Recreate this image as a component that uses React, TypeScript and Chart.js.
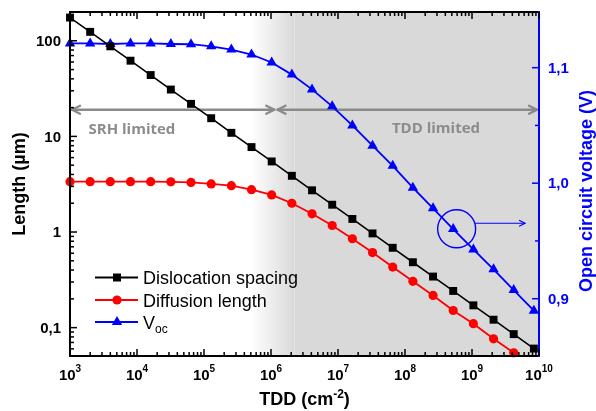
import React, { useEffect, useRef } from "react";
import { Chart, registerables } from "chart.js";

Chart.register(...registerables);

// ---- data ----
const tdd = [
  1000, 2000, 4000, 8000, 16000, 32000, 64000, 128000, 256000, 512000,
  1024000, 2048000, 4096000, 8192000, 16384000, 32768000, 65536000,
  131072000, 262144000, 524288000, 1048576000, 2097152000, 4194304000,
  8388608000,
];
const dislocationSpacing = [
  175, 124, 87.5, 61.9, 43.8, 30.9, 21.9, 15.5, 10.9, 7.73, 5.47, 3.87,
  2.73, 1.93, 1.37, 0.967, 0.684, 0.483, 0.342, 0.242, 0.171, 0.121, 0.0855,
  0.0604,
];
const diffusionLength = [
  3.36, 3.36, 3.36, 3.36, 3.36, 3.35, 3.3, 3.18, 3.05, 2.77, 2.44, 2.0, 1.55,
  1.17, 0.85, 0.61, 0.43, 0.305, 0.217, 0.151, 0.11, 0.0764, 0.0545,
];
const voc = [
  1.121, 1.121, 1.1205, 1.121, 1.121, 1.1205, 1.1203, 1.1185, 1.1157, 1.1114,
  1.1045, 1.094, 1.0812, 1.0665, 1.05, 1.0325, 1.015, 0.9961, 0.9783, 0.9603,
  0.9427, 0.9254, 0.9075, 0.8896,
];

const seriesLabels = ["Dislocation spacing", "Diffusion length", "V"];
const vocSubscript = "oc";

// ---- tick labels ----
const xMajorTicks = [1e3, 1e4, 1e5, 1e6, 1e7, 1e8, 1e9, 1e10];
const xTickBase = "10";
const xTickExponents = ["3", "4", "5", "6", "7", "8", "9", "10"];
const yLeftMajorTicks = [0.1, 1, 10, 100];
const yLeftTickLabels = ["0,1", "1", "10", "100"];
const yRightMajorTicks = [0.9, 1.0, 1.1];
const yRightTickLabels = ["0,9", "1,0", "1,1"];
const yRightMinorTicks = [0.95, 1.05];

const xTitle = "TDD (cm";
const xTitleSup = "-2";
const yTitle = "Length (µm)";
const y1Title = "Open circuit voltage (V)";
const srhText = "SRH limited";
const tddText = "TDD limited";

// ---- annotation anchors (data space) ----
const X_MIN = 1e3, X_MAX = 1e10;
const Y_MIN = 0.0505, Y_MAX = 200;
const Y1_MIN = 0.8504, Y1_MAX = 1.1482;
const shadeStart = Math.pow(10, 5.7);
const shadeEnd = Math.pow(10, 6.35);
const arrowY = 19;
const srhArrow = [1e3, 1.12e6];
const tddArrow = [1.25e6, 1e10];
const srhLabelPos = [8.4e3, 11.8];
const tddLabelPos = [2.9e8, 11.9];
const circlePos = [5.9e8, 0.9605];
const circleArrow = [0.9653, 6.2e9];

const BLUE = "#0000ff";
const RED = "#ff0000";
const GRAY_TXT = "#8c8c8c";
const SANS = '"Liberation Sans", Arial, sans-serif';

function minorLogTicks(min: number, max: number) {
  const out: number[] = [];
  for (let e = Math.floor(Math.log10(min)); e <= Math.ceil(Math.log10(max)); e++) {
    for (let n = 2; n <= 9; n++) {
      const v = n * Math.pow(10, e);
      if (v >= min && v <= max) out.push(v);
    }
  }
  return out;
}

function seg(ctx: CanvasRenderingContext2D, x1: number, y1: number, x2: number, y2: number) {
  ctx.beginPath();
  ctx.moveTo(x1, y1);
  ctx.lineTo(x2, y2);
  ctx.stroke();
}

function chevron(ctx: CanvasRenderingContext2D, x: number, y: number, dir: number, len: number, spread: number) {
  ctx.beginPath();
  ctx.moveTo(x - dir * len, y - spread);
  ctx.lineTo(x, y);
  ctx.lineTo(x - dir * len, y + spread);
  ctx.stroke();
}

const decorPlugin = {
  id: "decor",
  beforeDatasetsDraw(chart: any) {
    const { ctx, chartArea: a, scales } = chart;
    const xs = scales.x, ys = scales.y;
    ctx.save();
    ctx.fillStyle = "#ffffff";
    ctx.fillRect(a.left, a.top, a.right - a.left, a.bottom - a.top);
    const g0 = xs.getPixelForValue(shadeStart);
    const g1 = xs.getPixelForValue(shadeEnd);
    const grad = ctx.createLinearGradient(g0, 0, g1, 0);
    grad.addColorStop(0, "rgba(217,217,217,0)");
    grad.addColorStop(1, "rgba(217,217,217,1)");
    ctx.fillStyle = grad;
    ctx.fillRect(g0, a.top, g1 - g0, a.bottom - a.top);
    ctx.fillStyle = "rgb(217,217,217)";
    ctx.fillRect(g1, a.top, a.right - g1, a.bottom - a.top);

    // gray double arrows
    const ay = ys.getPixelForValue(arrowY);
    ctx.strokeStyle = "#8a8a8a";
    ctx.lineWidth = 2.4;
    ctx.lineCap = "round";
    ctx.lineJoin = "round";
    const s0 = xs.getPixelForValue(srhArrow[0]) + 2, s1 = xs.getPixelForValue(srhArrow[1]);
    seg(ctx, s0, ay, s1, ay);
    chevron(ctx, s0, ay, -1, 8, 4);
    chevron(ctx, s1, ay, 1, 8, 4);
    const t0 = xs.getPixelForValue(tddArrow[0]), t1 = xs.getPixelForValue(tddArrow[1]) - 2;
    seg(ctx, t0, ay, t1, ay);
    chevron(ctx, t0, ay, -1, 8, 4);
    chevron(ctx, t1, ay, 1, 8, 4);

    ctx.fillStyle = GRAY_TXT;
    ctx.font = 'bold 15px "Open Sans", ' + SANS;
    ctx.textAlign = "center";
    ctx.textBaseline = "middle";
    ctx.fillText(srhText, xs.getPixelForValue(srhLabelPos[0]), ys.getPixelForValue(srhLabelPos[1]));
    ctx.fillText(tddText, xs.getPixelForValue(tddLabelPos[0]), ys.getPixelForValue(tddLabelPos[1]));
    ctx.restore();
  },
  afterDatasetsDraw(chart: any) {
    const { ctx, chartArea: a, scales } = chart;
    const xs = scales.x, ys = scales.y, y1 = scales.y1;
    const L = a.left, R = a.right, T = a.top, B = a.bottom;
    ctx.save();

    // circle annotation
    const cx = xs.getPixelForValue(circlePos[0]);
    const cy = y1.getPixelForValue(circlePos[1]);
    const r = 19;
    ctx.strokeStyle = BLUE;
    ctx.lineWidth = 1.4;
    ctx.beginPath();
    ctx.arc(cx, cy, r, 0, Math.PI * 2);
    ctx.stroke();
    const aY = y1.getPixelForValue(circleArrow[0]);
    const dy = aY - cy;
    const ax0 = cx + Math.sqrt(Math.max(0, r * r - dy * dy));
    const ax1 = xs.getPixelForValue(circleArrow[1]);
    ctx.lineWidth = 1.2;
    seg(ctx, ax0, aY, ax1, aY);
    chevron(ctx, ax1, aY, 1, 6, 3);

    // axes
    ctx.lineCap = "butt";
    ctx.lineWidth = 2;
    ctx.strokeStyle = "#000";
    seg(ctx, L - 1, T, R, T);
    seg(ctx, L - 1, B, R, B);
    seg(ctx, L, T - 1, L, B + 1);
    ctx.strokeStyle = BLUE;
    seg(ctx, R, T - 1, R, B + 1);

    // ticks
    ctx.lineWidth = 1.5;
    ctx.strokeStyle = "#000";
    for (const v of xMajorTicks) {
      const px = xs.getPixelForValue(v);
      seg(ctx, px, B, px, B - 7);
      seg(ctx, px, T, px, T + 7);
    }
    for (const v of minorLogTicks(X_MIN, X_MAX)) {
      const px = xs.getPixelForValue(v);
      seg(ctx, px, B, px, B - 4);
      seg(ctx, px, T, px, T + 4);
    }
    for (const v of yLeftMajorTicks) {
      const py = ys.getPixelForValue(v);
      seg(ctx, L, py, L + 7, py);
    }
    for (const v of minorLogTicks(Y_MIN, Y_MAX)) {
      const py = ys.getPixelForValue(v);
      seg(ctx, L, py, L + 4, py);
    }
    ctx.strokeStyle = BLUE;
    for (const v of yRightMajorTicks) {
      const py = y1.getPixelForValue(v);
      seg(ctx, R, py, R - 7, py);
    }
    for (const v of yRightMinorTicks) {
      const py = y1.getPixelForValue(v);
      seg(ctx, R, py, R - 4, py);
    }

    // tick labels
    ctx.fillStyle = "#000";
    ctx.textBaseline = "alphabetic";
    ctx.textAlign = "left";
    xMajorTicks.forEach((v, i) => {
      const px = xs.getPixelForValue(v);
      ctx.font = "bold 15px " + SANS;
      const wb = ctx.measureText(xTickBase).width;
      ctx.font = "bold 10px " + SANS;
      const we = ctx.measureText(xTickExponents[i]).width;
      const start = px - (wb + we) / 2;
      ctx.font = "bold 15px " + SANS;
      ctx.fillText(xTickBase, start, B + 24);
      ctx.font = "bold 10px " + SANS;
      ctx.fillText(xTickExponents[i], start + wb, B + 16);
    });
    ctx.font = "bold 15px " + SANS;
    ctx.textAlign = "right";
    ctx.textBaseline = "middle";
    yLeftMajorTicks.forEach((v, i) => {
      ctx.fillText(yLeftTickLabels[i], L - 9, ys.getPixelForValue(v) + 1);
    });
    ctx.fillStyle = BLUE;
    ctx.textAlign = "left";
    yRightMajorTicks.forEach((v, i) => {
      ctx.fillText(yRightTickLabels[i], R + 9, y1.getPixelForValue(v) + 1);
    });

    // titles
    const midY = (T + B) / 2;
    ctx.font = "bold 18px " + SANS;
    ctx.textBaseline = "alphabetic";
    ctx.textAlign = "left";
    ctx.fillStyle = "#000";
    const w1 = ctx.measureText(xTitle).width;
    const w3 = ctx.measureText(")").width;
    ctx.font = "bold 12px " + SANS;
    const w2 = ctx.measureText(xTitleSup).width;
    const tx = (L + R) / 2 - (w1 + w2 + w3) / 2;
    const tb = B + 49;
    ctx.font = "bold 18px " + SANS;
    ctx.fillText(xTitle, tx, tb);
    ctx.fillText(")", tx + w1 + w2, tb);
    ctx.font = "bold 12px " + SANS;
    ctx.fillText(xTitleSup, tx + w1, tb - 7);

    ctx.font = "bold 18px " + SANS;
    ctx.textAlign = "center";
    ctx.textBaseline = "middle";
    ctx.save();
    ctx.translate(20, midY);
    ctx.rotate(-Math.PI / 2);
    ctx.fillText(yTitle, 0, 0);
    ctx.restore();
    ctx.save();
    ctx.fillStyle = BLUE;
    ctx.translate(587, midY + 7);
    ctx.rotate(-Math.PI / 2);
    ctx.fillText(y1Title, 0, 0);
    ctx.restore();

    // legend
    const rows = [277.5, 300, 322];
    const colors = ["#000", RED, BLUE];
    const lx0 = 95, lx1 = 138, mx = 117, textX = 143;
    rows.forEach((ry, i) => {
      ctx.strokeStyle = colors[i];
      ctx.fillStyle = colors[i];
      ctx.lineWidth = 2;
      seg(ctx, lx0, ry, lx1, ry);
      ctx.beginPath();
      if (i === 0) {
        ctx.rect(mx - 4, ry - 4, 8, 8);
      } else if (i === 1) {
        ctx.arc(mx, ry, 4.6, 0, Math.PI * 2);
      } else {
        ctx.moveTo(mx, ry - 6);
        ctx.lineTo(mx + 5.2, ry + 3);
        ctx.lineTo(mx - 5.2, ry + 3);
        ctx.closePath();
      }
      ctx.fill();
      ctx.fillStyle = "#000";
      ctx.textAlign = "left";
      ctx.textBaseline = "alphabetic";
      ctx.font = "18px " + SANS;
      ctx.fillText(seriesLabels[i], textX, ry + 6.5);
      if (i === 2) {
        const wv = ctx.measureText(seriesLabels[i]).width;
        ctx.font = "12px " + SANS;
        ctx.fillText(vocSubscript, textX + wv, ry + 11);
      }
    });

    ctx.restore();
  },
};

export default function App() {
  const ref = useRef<HTMLCanvasElement | null>(null);
  useEffect(() => {
    if (!ref.current) return;
    const chart = new Chart(ref.current, {
      type: "line",
      data: {
        datasets: [
          {
            label: seriesLabels[0],
            data: tdd.map((x, i) => ({ x, y: dislocationSpacing[i] })),
            yAxisID: "y",
            borderColor: "#000",
            backgroundColor: "#000",
            borderWidth: 1.6,
            pointStyle: "rect",
            pointRadius: 5.6,
            pointBorderWidth: 0,
            tension: 0,
            clip: false as any,
          },
          {
            label: seriesLabels[1],
            data: diffusionLength.map((y, i) => ({ x: tdd[i], y })),
            yAxisID: "y",
            borderColor: RED,
            backgroundColor: RED,
            borderWidth: 1.8,
            pointStyle: "circle",
            pointRadius: 4.6,
            pointBorderWidth: 0,
            tension: 0,
            clip: false as any,
          },
          {
            label: "Voc",
            data: voc.map((y, i) => ({ x: tdd[i], y })),
            yAxisID: "y1",
            borderColor: BLUE,
            backgroundColor: BLUE,
            borderWidth: 1.8,
            pointStyle: "triangle",
            pointRadius: 6,
            pointBorderWidth: 0,
            tension: 0,
            clip: false as any,
          },
        ],
      },
      options: {
        animation: false,
        responsive: false,
        events: [],
        layout: { padding: { left: 70, right: 57, top: 12, bottom: 55 } },
        plugins: { legend: { display: false }, tooltip: { enabled: false } },
        scales: {
          x: { type: "logarithmic", min: X_MIN, max: X_MAX, display: false, bounds: "data" },
          y: { type: "logarithmic", min: Y_MIN, max: Y_MAX, display: false, position: "left", bounds: "data" },
          y1: { type: "linear", min: Y1_MIN, max: Y1_MAX, display: false, position: "right", bounds: "data" },
        },
      } as any,
      plugins: [decorPlugin as any],
    });
    return () => chart.destroy();
  }, []);
  return (
    <div style={{ position: "absolute", left: 0, top: 0, width: 596, height: 411, background: "#fff" }}>
      <canvas ref={ref} width={596} height={411} style={{ display: "block" }} />
    </div>
  );
}
